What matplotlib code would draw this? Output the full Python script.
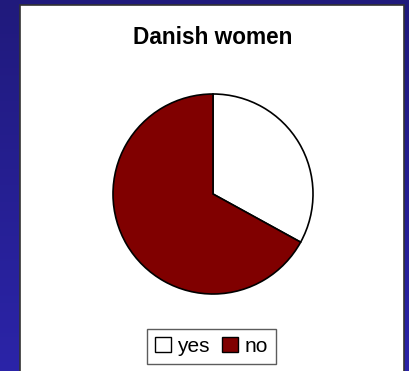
import numpy as np
import matplotlib
matplotlib.use("Agg")
import matplotlib.pyplot as plt
from matplotlib.patches import Rectangle, Patch

plt.rcParams["font.family"] = ["Liberation Sans", "DejaVu Sans"]

labels = ["yes", "no"]
shares = [33, 67]
colors = ["white", "#800000"]

W, H = 410, 371
fig = plt.figure(figsize=(W / 100, H / 100), dpi=100)

# navy gradient backdrop
bg = fig.add_axes([0, 0, 1, 1])
grad = np.linspace(0, 1, 256).reshape(-1, 1)
cmap = matplotlib.colors.LinearSegmentedColormap.from_list("bg", ["#201a7c", "#2b24a8"])
bg.imshow(grad, aspect="auto", cmap=cmap, extent=[0, W, H, 0])
bg.set_xlim(0, W)
bg.set_ylim(H, 0)
bg.axis("off")

# white chart panel
bg.add_patch(Rectangle((20, 4.5), 384, 380, facecolor="white",
                       edgecolor="#333333", linewidth=1.2))
bg.text(213, 37, "Danish women", ha="center", va="center",
        fontsize=16.3, fontweight="bold")

# pie
r = 101
cx, cy = 213, 194
ax = fig.add_axes([(cx - r) / W, 1 - (cy + r) / H, 2 * r / W, 2 * r / H])
ax.pie(shares, colors=colors, startangle=90, counterclock=False, radius=1,
       wedgeprops=dict(edgecolor="black", linewidth=1.2))
ax.set_xlim(-1.01, 1.01)
ax.set_ylim(-1.01, 1.01)
ax.set_aspect("equal")

handles = [Patch(facecolor=c, edgecolor="black", linewidth=1) for c in colors]
leg = fig.legend(handles, labels, loc="center", bbox_to_anchor=(211.5 / W, 1 - 346.5 / H),
                 ncol=2, frameon=True, fontsize=15, handlelength=0.75, handleheight=0.75,
                 handletextpad=0.3, columnspacing=0.6, borderpad=0.4, borderaxespad=0,
                 fancybox=False)
leg.get_frame().set_edgecolor("#333333")
leg.get_frame().set_linewidth(1)

fig.savefig("out.png", dpi=100)
